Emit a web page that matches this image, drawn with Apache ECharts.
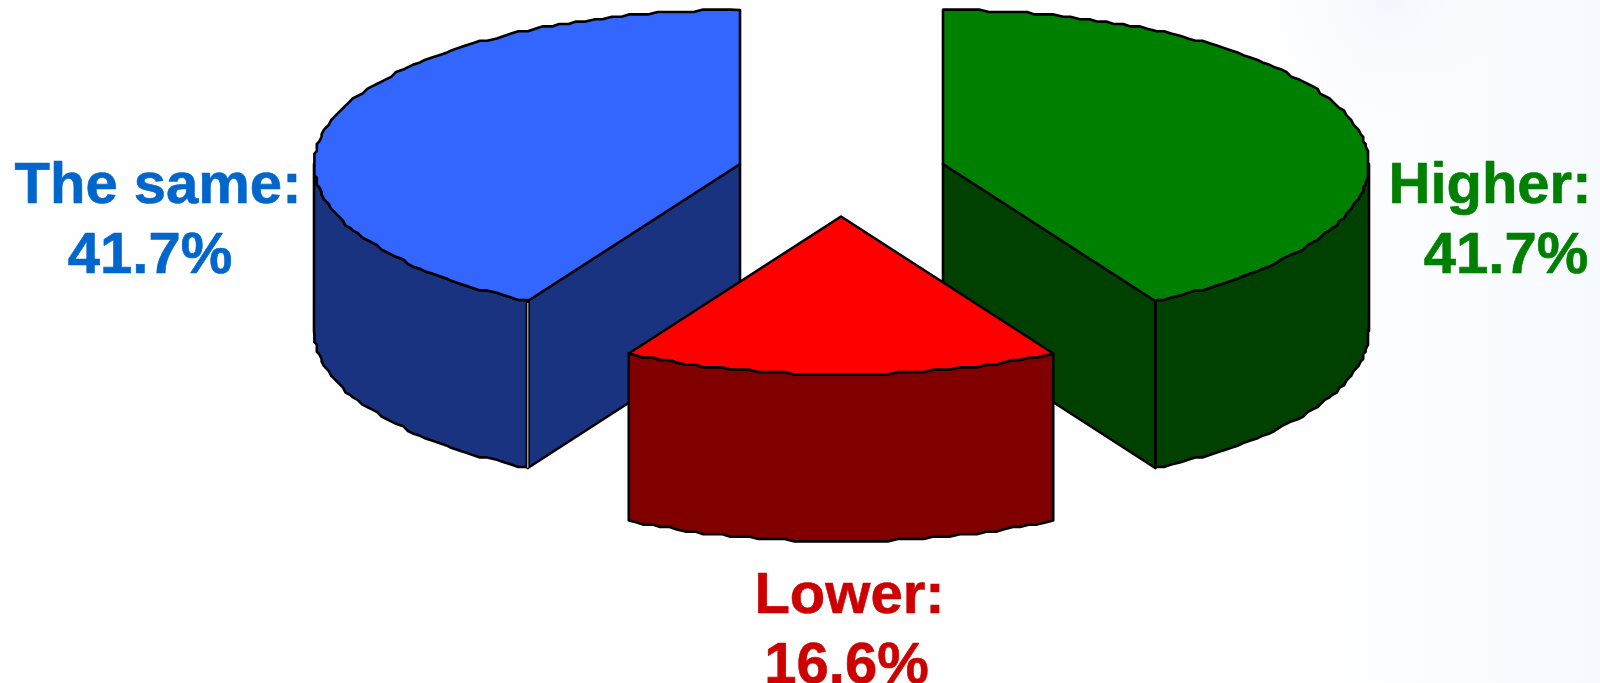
<!DOCTYPE html>
<html>
<head>
<meta charset="utf-8">
<style>html,body{margin:0;padding:0;background:#fff}#c{width:1600px;height:683px}</style>
<script src="https://cdn.jsdelivr.net/npm/echarts@6/dist/echarts.min.js"></script>
</head>
<body>
<div id="c"></div>
<script>
const categories = ['Higher', 'Lower', 'The same'];
const values = [41.7, 16.6, 41.7];

const chart = echarts.init(document.getElementById('c'), null, {renderer: 'canvas'});

const total = values.reduce((a, b) => a + b, 0);
const RX = 426, RY_FRONT = 158, RY_BACK = 154, DEPTH = 167, SNAP = 2.4, STEP = 1.25;
const looks = [
  {cx: 943, cy: 164, top: '#008000', side: '#004000', text: '#008000', z: 1,
   line1: [1490, 187], line2: [1506, 257]},
  {cx: 841, cy: 216.5, top: '#FF0000', side: '#800000', text: '#CC0000', z: 3,
   line1: [849.5, 597], line2: [846.5, 667]},
  {cx: 740, cy: 164, top: '#3366FF', side: '#1A3380', text: '#0066CC', z: 2,
   line1: [158, 187], line2: [150, 257], seam: true}
];

function pt(l, deg, dy) {
  const r = deg * Math.PI / 180, c = Math.cos(r);
  return [l.cx + RX * Math.sin(r), l.cy - (c > 0 ? RY_BACK : RY_FRONT) * c + (dy || 0)];
}
function snap(p, dy) {
  return [Math.round(p[0] / SNAP) * SNAP, Math.round(p[1] / SNAP) * SNAP + (dy || 0)];
}
function arc(l, from, to, dy) {
  const out = [pt(l, from, dy)];
  for (let a = Math.ceil(from / STEP) * STEP; a < to; a += STEP) out.push(snap(pt(l, a), dy));
  out.push(pt(l, to, dy));
  return out;
}
const LINE = {stroke: '#000', lineWidth: 2.6, lineJoin: 'round'};

function renderItem(params, api) {
  const i = params.dataIndex, l = looks[i];
  const value = api.value(0);
  let before = 0;
  for (let k = 0; k < i; k++) before += values[k];
  const a0 = before / total * 360, a1 = (before + value) / total * 360;
  const center = [l.cx, l.cy];
  const kids = [];
  const poly = (points, fill, z2) => kids.push({
    type: 'polygon', z2: l.z * 10 + z2, shape: {points},
    style: Object.assign({fill}, LINE)
  });
  // outer wall: part of the rim facing the viewer
  const w0 = Math.max(a0, 90), w1 = Math.min(a1, 270);
  if (w1 > w0) {
    const upper = arc(l, w0, w1, 0), lower = arc(l, w0, w1, DEPTH);
    poly(upper.concat(lower.reverse()), l.side, 1);
  }
  // visible cut faces
  [[a1, a1 > 90 && a1 < 180], [a0, a0 > 180 && a0 < 270]].forEach(([a, show]) => {
    if (!show) return;
    const e = pt(l, a);
    poly([center, e, [e[0], e[1] + DEPTH], [l.cx, l.cy + DEPTH]], l.side, 2);
    if (l.seam) {
      kids.push({type: 'line', z2: l.z * 10 + 3,
        shape: {x1: e[0], y1: e[1], x2: e[0], y2: e[1] + DEPTH},
        style: {stroke: '#000', lineWidth: 4.5}});
      kids.push({type: 'line', z2: l.z * 10 + 4,
        shape: {x1: e[0], y1: e[1] + 2, x2: e[0], y2: e[1] + DEPTH},
        style: {stroke: '#B8B8B8', lineWidth: 1.2}});
    }
  });
  // top face
  poly([center].concat(arc(l, a0, a1, 0)), l.top, 5);
  // labels
  const font = {fontFamily: '"Liberation Sans", Arial, sans-serif', fontWeight: 'bold', fontSize: 58,
                fill: l.text, stroke: l.text, lineWidth: 0.6, textAlign: 'center', textVerticalAlign: 'middle'};
  kids.push({type: 'text', z2: 100, style: Object.assign({text: categories[i] + ':', x: l.line1[0], y: l.line1[1]}, font)});
  kids.push({type: 'text', z2: 100, style: Object.assign({text: value.toFixed(1) + '%', x: l.line2[0], y: l.line2[1]}, font)});
  return {type: 'group', children: kids};
}

chart.setOption({
  animation: false,
  backgroundColor: {
    type: 'linear', x: 0, y: 0, x2: 1, y2: 0,
    colorStops: [{offset: 0, color: '#FEFEFE'}, {offset: 0.8, color: '#FEFEFF'}, {offset: 0.88, color: '#FCFDFF'}, {offset: 1, color: '#F6FAFF'}]
  },
  graphic: [{
    type: 'rect', silent: true, z: -1, shape: {x: 1000, y: 0, width: 600, height: 260},
    style: {fill: {type: 'radial', x: 0.65, y: 0, r: 0.65,
      colorStops: [{offset: 0, color: 'rgba(236,242,252,0.55)'}, {offset: 1, color: 'rgba(255,255,255,0)'}]}}
  }],
  series: [{
    type: 'custom',
    coordinateSystem: 'none',
    silent: true,
    renderItem,
    data: values.map((v, i) => ({name: categories[i], value: [v]}))
  }]
});
</script>
</body>
</html>
